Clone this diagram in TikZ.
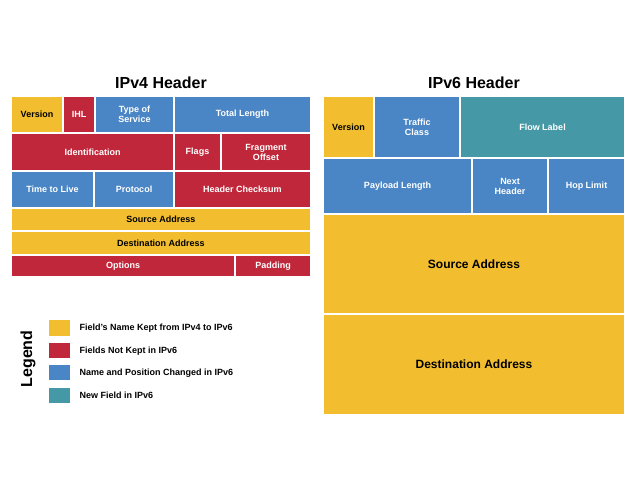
\documentclass[tikz,border=0pt]{standalone}
\usepackage{fontspec}
\setmainfont{Liberation Sans}
\begin{document}
\begin{tikzpicture}[x=1pt,y=-1pt,
  cell/.style={draw=white,line width=1.2pt,font=\bfseries\fontsize{9}{10}\selectfont,align=center,inner sep=0pt},
  yl/.style={cell,fill={rgb,255:red,242;green,190;blue,47},text=black},
  rd/.style={cell,fill={rgb,255:red,193;green,39;blue,58},text=white},
  bl/.style={cell,fill={rgb,255:red,74;green,134;blue,198},text=white},
  tl/.style={cell,fill={rgb,255:red,69;green,153;blue,166},text=white},
  ttl/.style={font=\bfseries\fontsize{16}{18}\selectfont},
  lgt/.style={anchor=west,font=\bfseries\fontsize{9}{10}\selectfont}]
\useasboundingbox (0,0) rectangle (638,478);
\newcommand{\cellbox}[6]{\path[#1] (#2,#3) rectangle (#4,#5) node[midway] {#6};}
\node[ttl] (t4) at (161,83) {IPv4 Header};
\node[ttl] (t6) at (474,83) {IPv6 Header};
% IPv4
\cellbox{yl}{11}{96}{63}{133}{Version}
\cellbox{rd}{63}{96}{95}{133}{IHL}
\cellbox{bl}{95}{96}{174}{133}{Type of\\Service}
\cellbox{bl}{174}{96}{311}{133}{Total Length}
\cellbox{rd}{11}{133}{174}{171}{Identification}
\cellbox{rd}{174}{133}{221}{171}{Flags}
\cellbox{rd}{221}{133}{311}{171}{Fragment\\Offset}
\cellbox{bl}{11}{171}{94}{208}{Time to Live}
\cellbox{bl}{94}{171}{174}{208}{Protocol}
\cellbox{rd}{174}{171}{311}{208}{Header Checksum}
\cellbox{yl}{11}{208}{311}{231}{Source Address}
\cellbox{yl}{11}{231}{311}{255}{Destination Address}
\cellbox{rd}{11}{255}{235}{277}{Options}
\cellbox{rd}{235}{255}{311}{277}{Padding}
% IPv6
\cellbox{yl}{323}{96}{374}{158}{Version}
\cellbox{bl}{374}{96}{460}{158}{Traffic\\Class}
\cellbox{tl}{460}{96}{625}{158}{Flow Label}
\cellbox{bl}{323}{158}{472}{214}{Payload Length}
\cellbox{bl}{472}{158}{548}{214}{Next\\Header}
\cellbox{bl}{548}{158}{625}{214}{Hop Limit}
\path[yl,font=\bfseries\fontsize{12}{14}\selectfont] (323,214) rectangle (625,314) node[midway] {Source Address};
\path[yl,font=\bfseries\fontsize{12}{14}\selectfont] (323,314) rectangle (625,415) node[midway] {Destination Address};
% Legend
\node[rotate=90,font=\bfseries\fontsize{16}{18}\selectfont] (lg) at (28,359) {Legend};
\path[yl] (48,319) rectangle (71,337); \node[lgt] (l1) at (76,328) {Field’s Name Kept from IPv4 to IPv6};
\path[rd] (48,342) rectangle (71,359); \node[lgt] (l2) at (76,351) {Fields Not Kept in IPv6};
\path[bl] (48,364) rectangle (71,381); \node[lgt] (l3) at (76,373) {Name and Position Changed in IPv6};
\path[tl] (48,387) rectangle (71,404); \node[lgt] (l4) at (76,395) {New Field in IPv6};
\end{tikzpicture}
\end{document}
